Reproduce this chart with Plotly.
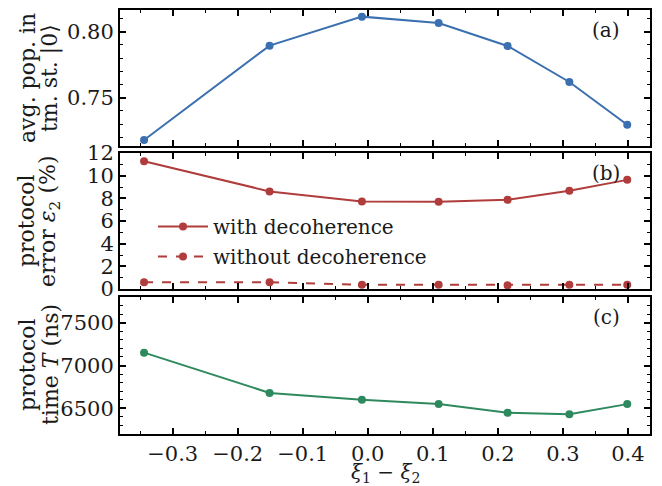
import plotly.graph_objects as go

xi_diff = [-0.344, -0.151, -0.009, 0.109, 0.215, 0.310, 0.399]
avg_pop = [0.718, 0.7894, 0.8114, 0.8066, 0.7892, 0.7619, 0.7295]
err_with = [11.28, 8.61, 7.73, 7.69, 7.87, 8.66, 9.63]
err_without = [0.59, 0.59, 0.38, 0.38, 0.32, 0.38, 0.38]
time_T = [7150, 6680, 6600, 6550, 6447, 6431, 6549]

x_ticks = [-0.3, -0.2, -0.1, 0.0, 0.1, 0.2, 0.3, 0.4]
x_ticklabels = ["\u22120.3", "\u22120.2", "\u22120.1", "0.0", "0.1", "0.2", "0.3", "0.4"]

BLUE = "#3a70b0"
RED = "#b03c3c"
GREEN = "#2e8a5e"
FONT = "DejaVu Serif"
FS_TICK = 21
FS_TITLE = 22
FS_LEG = 20
TXT = "#1a1a1a"

fig = go.Figure()
fig.add_trace(go.Scatter(x=xi_diff, y=avg_pop, mode="lines+markers",
                         line=dict(color=BLUE, width=2), marker=dict(size=8, color=BLUE),
                         showlegend=False, xaxis="x", yaxis="y"))
fig.add_trace(go.Scatter(x=xi_diff, y=err_with, mode="lines+markers", name="with decoherence",
                         line=dict(color=RED, width=2), marker=dict(size=8, color=RED),
                         legendgroup="g1", xaxis="x2", yaxis="y2"))
fig.add_trace(go.Scatter(x=xi_diff, y=err_without, mode="lines+markers", name="without decoherence",
                         line=dict(color=RED, width=2, dash="dash"), marker=dict(size=8, color=RED),
                         legendgroup="g2", xaxis="x2", yaxis="y2"))
fig.add_trace(go.Scatter(x=xi_diff, y=time_T, mode="lines+markers",
                         line=dict(color=GREEN, width=2), marker=dict(size=8, color=GREEN),
                         showlegend=False, xaxis="x3", yaxis="y3"))

xr = [-0.381, 0.434]
H_top, H_bot = 9, 52
ph = 486 - H_top - H_bot
L = 120
pw = 662 - L - 12

def dom(top_px, bot_px):
    lo = (486 - H_bot - bot_px) / ph
    hi = (486 - H_bot - top_px) / ph
    return [max(0.0, lo), min(1.0, hi)]

def py(px):
    return (486 - H_bot - px) / ph

def pxx(px):
    return (px - L) / pw

common_axis = dict(showline=True, linecolor="black", linewidth=2, mirror="allticks",
                   ticks="inside", ticklen=6, tickwidth=1.5, tickcolor="black",
                   showgrid=False, zeroline=False, automargin=False,
                   tickfont=dict(family=FONT, size=FS_TICK, color=TXT),
                   minor=dict(ticks="inside", ticklen=3, tickwidth=1, tickcolor="black", showgrid=False))

def xaxis(show_labels, domain_anchor):
    d = dict(common_axis)
    d.update(range=xr, tickvals=x_ticks, ticktext=x_ticklabels, showticklabels=show_labels,
             anchor=domain_anchor, minor=dict(common_axis["minor"], dtick=0.05, tick0=0))
    return d

fig.update_layout(
    width=662, height=486, autosize=False,
    margin=dict(l=L, r=12, t=H_top, b=H_bot, pad=0, autoexpand=False),
    plot_bgcolor="white", paper_bgcolor="white",
    font=dict(family=FONT, size=FS_TICK, color=TXT),
    xaxis=xaxis(False, "y"),
    xaxis2=xaxis(False, "y2"),
    xaxis3=dict(xaxis(True, "y3"), ticklabelstandoff=0),
    yaxis=dict(common_axis, domain=dom(9.5, 146), range=[0.7134, 0.8168], tickvals=[0.75, 0.80],
               ticktext=["0.75", "0.80"], anchor="x", minor=dict(common_axis["minor"], dtick=0.01, tick0=0)),
    yaxis2=dict(common_axis, domain=dom(153, 289), range=[0, 12], dtick=2, anchor="x2",
                minor=dict(common_axis["minor"], dtick=1, tick0=0)),
    yaxis3=dict(common_axis, domain=dom(297, 434), range=[6200, 7800], tickvals=[6500, 7000, 7500],
                anchor="x3", minor=dict(common_axis["minor"], dtick=100, tick0=0)),
    legend=dict(x=pxx(153), y=py(207), xanchor="left", yanchor="top", bgcolor="rgba(255,255,255,0)",
                font=dict(family=FONT, size=FS_LEG, color=TXT), tracegroupgap=1, itemwidth=50),
)

def ytitle(line1, line2, ycen):
    for txt, xp in [(line1, 27), (line2, 50)]:
        fig.add_annotation(text=txt, textangle=-90, xref="paper", yref="paper",
                           x=pxx(xp), y=ycen, xanchor="center", yanchor="middle", showarrow=False,
                           font=dict(family=FONT, size=FS_TITLE, color=TXT))

ytitle("avg. pop. in", "tm. st. |0\u27e9", py(78))
ytitle("protocol", "error <i>\u03b5</i><sub>2</sub> (%)", py(221))
ytitle("protocol", "time <i>T</i> (ns)", py(365))

fig.add_annotation(text="<i>\u03be</i><sub>1</sub> \u2212 <i>\u03be</i><sub>2</sub>",
                   xref="paper", yref="paper", x=pxx(385), y=py(472.5), xanchor="center",
                   yanchor="middle", showarrow=False, font=dict(family=FONT, size=20, color=TXT))

for lab, ycen in [("(a)", 30), ("(b)", 173), ("(c)", 317)]:
    fig.add_annotation(text=lab, xref="paper", yref="paper", x=pxx(622), y=py(ycen),
                       xanchor="right", yanchor="middle", showarrow=False,
                       font=dict(family=FONT, size=FS_LEG, color=TXT))

fig.write_html("out.html")
